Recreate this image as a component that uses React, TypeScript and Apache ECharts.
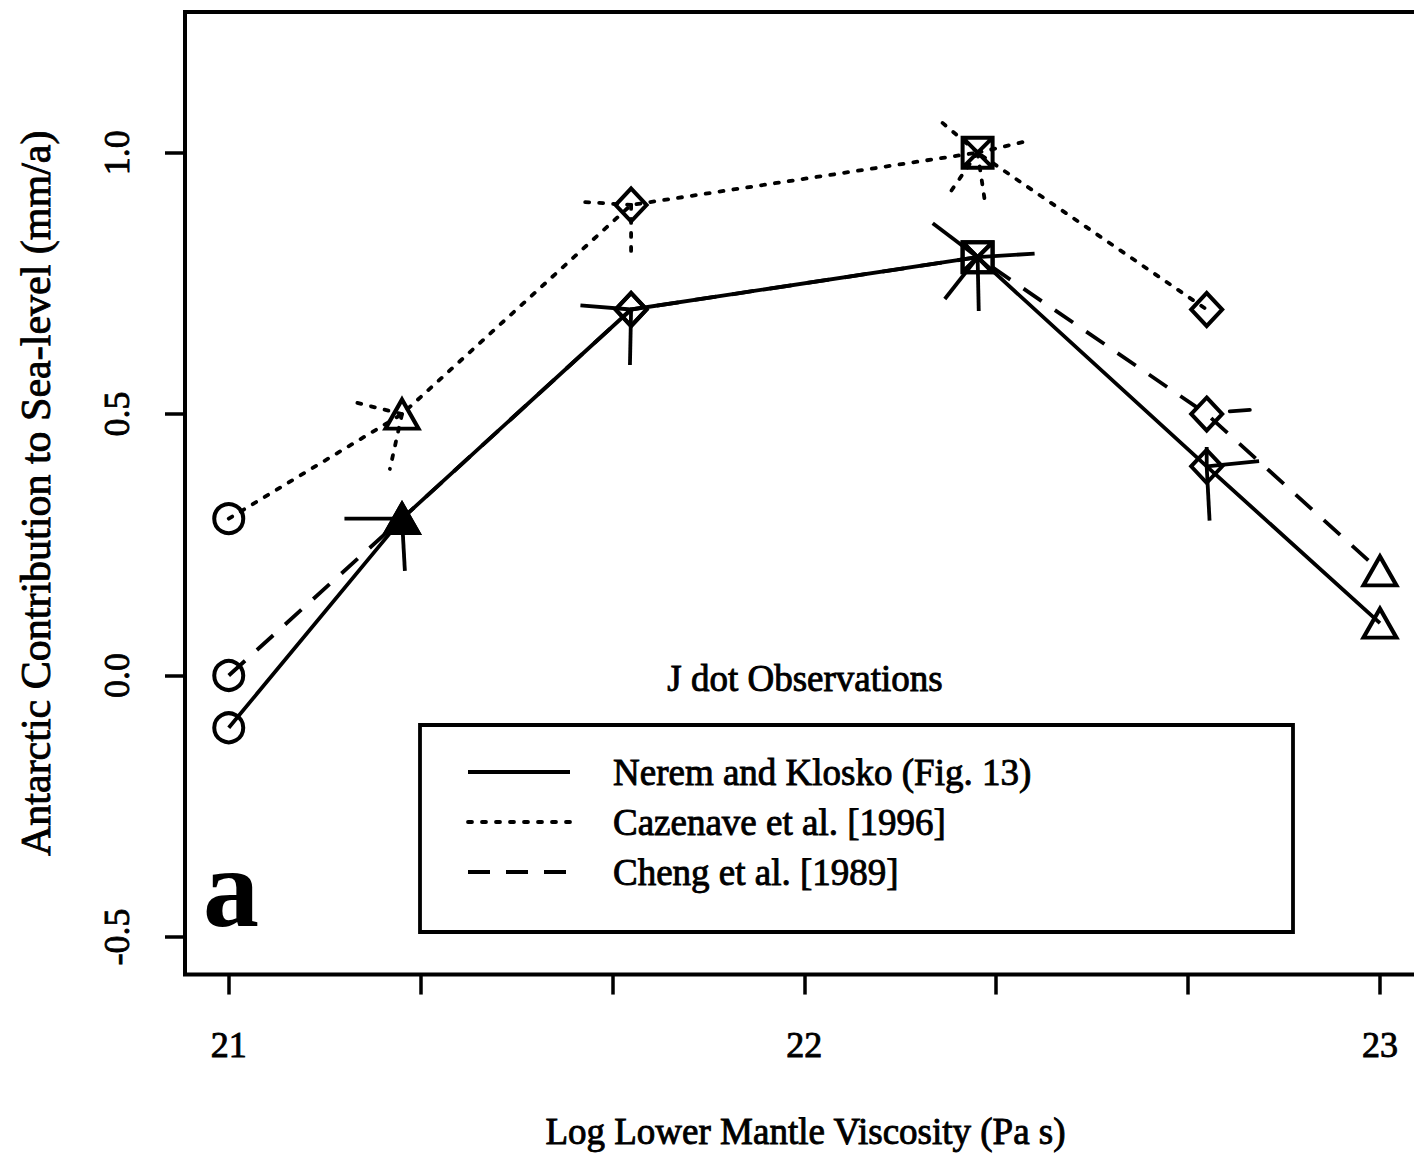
import React, { useEffect, useRef } from "react";
import * as echarts from "echarts";

// log10 lower mantle viscosity of the models (1, 2, 5, 20, 50, 100 x 1e21 Pa s)
const X_VALUES = [21, 21.301, 21.699, 22.301, 22.699, 23];
const NEREM = [-0.1, 0.3, 0.7, 0.8, 0.4, 0.1];
const CAZENAVE = [0.3, 0.5, 0.9, 1.0, 0.7, null];
const CHENG = [0.0, 0.3, 0.7, 0.8, 0.5, 0.2];
const MARKERS = ["circle", "triangle", "diamond", "squareX", "diamond", "triangle"];

const X_TICKS = [21, 21.3333, 21.6667, 22, 22.3333, 22.6667, 23];
const X_LABELS = [21, 22, 23];
const Y_TICKS = [-0.5, 0, 0.5, 1.0];

// short "error rays" drawn around some points: [x0, y0, x1, y1]
const RAYS_SOLID = [
  [21.301, 0.3, 21.201, 0.3],
  [21.301, 0.3, 21.306, 0.2],
  [21.699, 0.7, 21.611, 0.708],
  [21.699, 0.7, 21.697, 0.594],
  [22.301, 0.8, 22.223, 0.865],
  [22.301, 0.8, 22.244, 0.72],
  [22.301, 0.8, 22.303, 0.697],
  [22.301, 0.8, 22.4, 0.807],
  [22.699, 0.4, 22.79, 0.41],
  [22.699, 0.4, 22.704, 0.296],
  [22.699, 0.4, 22.699, 0.437],
];
const RAYS_DOTTED = [
  [21.301, 0.5, 21.21, 0.525],
  [21.301, 0.5, 21.28, 0.395],
  [21.699, 0.9, 21.611, 0.906],
  [21.699, 0.9, 21.699, 0.811],
  [22.301, 1.0, 22.227, 1.069],
  [22.301, 1.0, 22.383, 1.021],
  [22.301, 1.0, 22.315, 0.897],
  [22.301, 1.0, 22.247, 0.914],
];
const RAYS_DASHED = [[22.739, 0.505, 22.774, 0.508]];

const LEGEND_NAMES = ["Nerem and Klosko (Fig. 13)", "Cazenave et al. [1996]", "Cheng et al. [1989]"];

const FONT = "'Liberation Serif', 'Times New Roman', serif";
const DOTTED = [4, 10];
const DASHED = [22, 16];
const LW = 3.8;
const INK = { textBorderColor: "#000", textBorderWidth: 0.9 };

const SYMBOLS: Record<string, any> = {
  circle: { symbol: "circle", size: 29 },
  triangle: { symbol: "triangle", size: [33, 29] },
  diamond: { symbol: "diamond", size: [31, 33] },
  squareX: { symbol: "path://M0,0L20,0L20,20L0,20Z M0,0L20,20 M20,0L0,20", size: 30 },
};

function buildData(values: (number | null)[], filledIdx: number[] = []) {
  const out: any[] = [];
  values.forEach((v, i) => {
    if (v == null) return;
    const s = SYMBOLS[MARKERS[i]];
    const filled = filledIdx.includes(i);
    out.push({
      value: [X_VALUES[i], v],
      symbol: s.symbol,
      symbolSize: s.size,
      itemStyle: {
        color: filled ? "#000" : "rgba(0,0,0,0)",
        borderColor: "#000",
        borderWidth: 4,
      },
    });
  });
  return out;
}

function lineSeries(name: string, values: (number | null)[], type: any, z: number, filledIdx: number[] = []) {
  return {
    name,
    type: "line",
    data: buildData(values, filledIdx),
    z,
    silent: true,
    showSymbol: true,
    lineStyle: {
      color: "#000",
      width: LW,
      type,
      cap: Array.isArray(type) && type[0] < 8 ? "round" : "butt",
    },
  };
}

function raySeries(data: number[][], dash: any, z: number) {
  return {
    type: "custom",
    silent: true,
    z,
    data,
    encode: { x: [0, 2], y: [1, 3] },
    renderItem: (_p: any, api: any) => {
      const a = api.coord([api.value(0), api.value(1)]);
      const b = api.coord([api.value(2), api.value(3)]);
      return {
        type: "line",
        shape: { x1: a[0], y1: a[1], x2: b[0], y2: b[1] },
        style: { stroke: "#000", lineWidth: LW, lineDash: dash, lineCap: dash ? "round" : "butt" },
      };
    },
  };
}

export default function App() {
  const ref = useRef<HTMLDivElement>(null);
  useEffect(() => {
    if (!ref.current) return;
    const chart = echarts.init(ref.current, null, { renderer: "svg" });
    const legendY = [772, 822, 872];
    const legendDash: any[] = [null, DOTTED, DASHED];
    const graphics: any[] = [
      {
        type: "rect",
        shape: { x: 420, y: 725, width: 873, height: 207 },
        style: { fill: "rgba(0,0,0,0)", stroke: "#000", lineWidth: 3.8 },
        z: 50,
      },
      {
        type: "text",
        style: {
          text: "J dot Observations",
          x: 805,
          y: 678,
          fill: "#000",
          font: `37px ${FONT}`,
          align: "center",
          verticalAlign: "middle",
          textAlign: "center",
          textVerticalAlign: "middle",
          stroke: "#000",
          lineWidth: 0.9,
        },
        z: 50,
      },
      {
        type: "text",
        style: {
          text: "a",
          x: 203,
          y: 888,
          fill: "#000",
          font: `bold 112px ${FONT}`,
          align: "left",
          verticalAlign: "middle",
          textAlign: "left",
          textVerticalAlign: "middle",
        },
        z: 50,
      },
    ];
    LEGEND_NAMES.forEach((n, i) => {
      graphics.push({
        type: "line",
        shape: { x1: 468, y1: legendY[i], x2: 570, y2: legendY[i] },
        style: {
          stroke: "#000",
          lineWidth: LW,
          lineDash: legendDash[i],
          lineCap: i === 1 ? "round" : "butt",
        },
        z: 50,
      });
      graphics.push({
        type: "text",
        style: {
          text: n,
          x: 613,
          y: legendY[i],
          fill: "#000",
          font: `37px ${FONT}`,
          align: "left",
          verticalAlign: "middle",
          textAlign: "left",
          textVerticalAlign: "middle",
          stroke: "#000",
          lineWidth: 0.9,
        },
        z: 50,
      });
    });

    chart.setOption({
      animation: false,
      backgroundColor: "#fff",
      textStyle: { fontFamily: FONT, color: "#000" },
      grid: {
        left: 185,
        top: 12,
        right: 14,
        bottom: 177,
        show: true,
        borderColor: "#000",
        borderWidth: 4,
        backgroundColor: "rgba(0,0,0,0)",
      },
      xAxis: {
        type: "value",
        min: 20.924,
        max: 23.08,
        splitLine: { show: false },
        axisLine: { show: false, onZero: false },
        axisTick: {
          show: true,
          customValues: X_TICKS,
          length: 20,
          lineStyle: { color: "#000", width: 3.5 },
        },
        axisLabel: {
          customValues: X_LABELS,
          formatter: (v: number) => String(Math.round(v)),
          fontFamily: FONT,
          fontSize: 36,
          color: "#000",
          margin: 52,
          ...INK,
        },
        name: "Log Lower Mantle Viscosity (Pa s)",
        nameLocation: "middle",
        nameGap: 138,
        nameTextStyle: { fontFamily: FONT, fontSize: 37, color: "#000", ...INK },
      },
      yAxis: {
        type: "value",
        min: -0.572,
        max: 1.269,
        splitLine: { show: false },
        axisLine: { show: false, onZero: false },
        axisTick: {
          show: true,
          customValues: Y_TICKS,
          length: 20,
          lineStyle: { color: "#000", width: 3.5 },
        },
        axisLabel: {
          customValues: Y_TICKS,
          formatter: (v: number) => v.toFixed(1),
          rotate: 90,
          fontFamily: FONT,
          fontSize: 36,
          color: "#000",
          margin: 50,
          ...INK,
        },
        name: "Antarctic Contribution to Sea-level (mm/a)",
        nameLocation: "middle",
        nameRotate: 90,
        nameGap: 128,
        nameTextStyle: { fontFamily: FONT, fontSize: 42, color: "#000", ...INK },
      },
      graphic: graphics,
      series: [
        lineSeries("Cheng et al. [1989]", CHENG, DASHED, 2),
        lineSeries("Cazenave et al. [1996]", CAZENAVE, DOTTED, 3),
        lineSeries("Nerem and Klosko (Fig. 13)", NEREM, "solid", 4, [1]),
        raySeries(RAYS_SOLID, null, 5),
        raySeries(RAYS_DOTTED, DOTTED, 5),
        raySeries(RAYS_DASHED, DASHED, 5),
      ],
    });
    return () => chart.dispose();
  }, []);
  return (
    <div
      style={{
        position: "fixed",
        left: 0,
        top: 0,
        width: 1414,
        height: 1155,
        overflow: "hidden",
        background: "#fff",
      }}
    >
      <div ref={ref} style={{ width: 1440, height: 1155 }} />
    </div>
  );
}
